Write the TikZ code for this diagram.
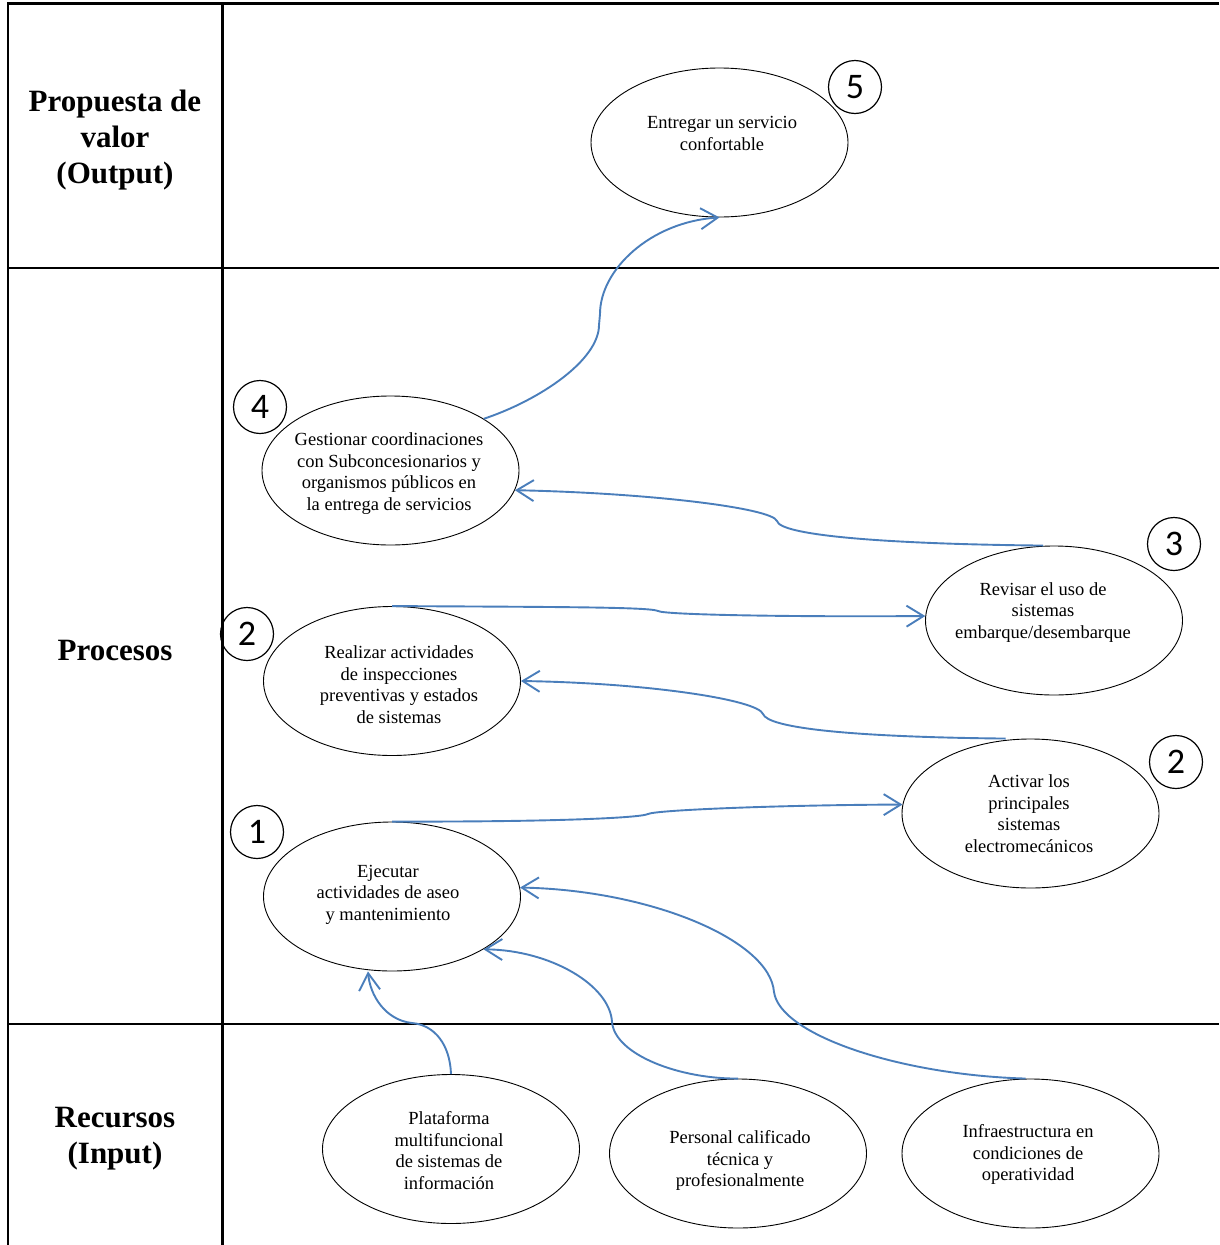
\documentclass[tikz,border=0pt]{standalone}
\usepackage{fontspec}
\setmainfont{Liberation Serif}
\newfontfamily\numfont{Carlito}
\usetikzlibrary{arrows.meta,shapes.geometric}
\definecolor{flowblue}{RGB}{74,126,187}
\begin{document}
\begin{tikzpicture}[x=1pt,y=-1pt,
  rule/.style={line width=2.6pt},
  oval/.style={ellipse, draw, line width=0.9pt, minimum width=257pt, minimum height=149pt, inner sep=0pt},
  txt/.style={align=center, font=\fontsize{18.5}{21.6}\selectfont},
  head/.style={align=center, font=\fontsize{31}{36}\selectfont\bfseries},
  badge/.style={circle, draw, line width=1.2pt, minimum size=53pt, inner sep=0pt, font=\numfont\fontsize{36}{36}\selectfont},
  flow/.style={draw=flowblue, line width=1.9pt, -{Straight Barb[length=17pt,width=21pt,line width=1.9pt]}}
]
\useasboundingbox (0,0) rectangle (1219,1245);

% table rules
\draw[rule] (8,3.5) -- (1219,3.5);
\draw[rule] (8,268) -- (1219,268);
\draw[rule] (8,1024) -- (1219,1024);
\draw[rule] (8,2.2) -- (8,1245);
\draw[rule] (222.5,2.2) -- (222.5,1245);

% row headings
\node[head] (h1) at (115,140) {Propuesta de\\valor\\(Output)};
\node[head] (h2) at (115,650) {Procesos};
\node[head] (h3) at (115,1139) {Recursos\\(Input)};

% activity ovals
\node[oval] (e5)  at (719.5,142.5) {};
\node[oval] (e4)  at (390.5,470.5) {};
\node[oval] (e3)  at (1054,620.5) {};
\node[oval] (e2a) at (392,681) {};
\node[oval] (e2b) at (1030.5,813.5) {};
\node[oval] (e1)  at (392,896.5) {};
\node[oval] (r1)  at (451,1149) {};
\node[oval] (r2)  at (738,1153.5) {};
\node[oval] (r3)  at (1030.5,1153.5) {};

% oval texts
\node[txt] (t5)  at (722,133.5)  {Entregar un servicio\\confortable};
\node[txt] (t4)  at (389,473.5)  {Gestionar coordinaciones\\con Subconcesionarios y\\organismos públicos en\\la entrega de servicios};
\node[txt] (t3)  at (1043,612.5) {Revisar el uso de\\sistemas\\embarque/desembarque};
\node[txt] (t2a) at (399,684.5)  {Realizar actividades\\de inspecciones\\preventivas y estados\\de sistemas};
\node[txt] (t2b) at (1029,813.5) {Activar los\\principales\\sistemas\\electromecánicos};
\node[txt] (t1)  at (388,894.5)  {Ejecutar\\actividades de aseo\\y mantenimiento};
\node[txt] (s1)  at (449,1150.5) {Plataforma\\multifuncional\\de sistemas de\\información};
\node[txt] (s2)  at (740,1160.5) {Personal calificado\\técnica y\\profesionalmente};
\node[txt] (s3)  at (1028,1154.5) {Infraestructura en\\condiciones de\\operatividad};

% step numbers
\node[badge] (b5)  at (855,87)   {5};
\node[badge] (b4)  at (260,407)  {4};
\node[badge] (b3)  at (1174,544) {3};
\node[badge] (b2a) at (247,634)  {2};
\node[badge] (b2b) at (1176,762) {2};
\node[badge] (b1)  at (257,832)  {1};

% flows between activities
\draw[flow] (e4.29) .. controls (540,400) and (599,360) .. (599,325)
  -- (600,314) .. controls (600,270) and (650,222) .. (e5.south);
\draw[flow] ([xshift=-11pt]e3.north) .. controls (880,544) and (780,535) .. (777,521)
  .. controls (772,508) and (650,493) .. (e4.-9);
\draw[flow] (e2a.north) .. controls (560,607) and (650,607) .. (658,611)
  .. controls (665,615) and (800,617) .. (e3.178);
\draw[flow] ([xshift=-25pt]e2b.north) .. controls (850,737) and (768,728) .. (763,714)
  .. controls (758,700) and (650,683) .. (e2a.east);
\draw[flow] (e1.north) .. controls (550,822) and (640,818) .. (648,814)
  .. controls (656,810) and (780,805) .. (e2b.176);
\draw[flow] (r1.north) .. controls (450,1045) and (435,1025) .. (412,1023)
  .. controls (385,1020) and (370,995) .. ([xshift=-24pt]e1.south);
\draw[flow] (r2.north) .. controls (680,1079) and (615,1055) .. (612,1022)
  .. controls (610,985) and (550,950) .. (e1.-30);
\draw[flow] ([xshift=-5pt]r3.north) .. controls (900,1075) and (780,1035) .. (774,992)
  .. controls (770,940) and (650,890) .. (e1.4);
\end{tikzpicture}
\end{document}
